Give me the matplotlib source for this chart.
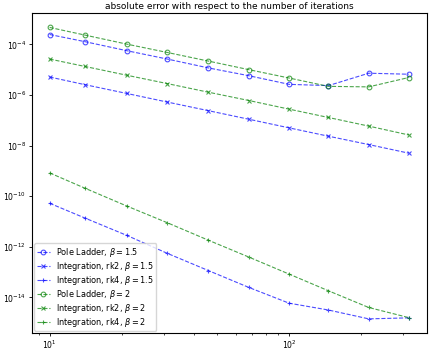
import numpy as np
import matplotlib
matplotlib.use("Agg")
import matplotlib.pyplot as plt

# number of iterations
n_iter = [10, 14, 21, 31, 46, 68, 100, 146, 215, 316]

# absolute errors, beta = 1.5
pole_15 = [10**-3.61, 10**-3.89, 10**-4.25, 10**-4.58, 10**-4.93,
           10**-5.24, 10**-5.58, 10**-5.63, 10**-5.14, 10**-5.18]
rk2_15 = [10**-5.29, 10**-5.59, 10**-5.94, 10**-6.28, 10**-6.62,
          10**-6.96, 10**-7.30, 10**-7.63, 10**-7.96, 10**-8.30]
rk4_15 = [10**-10.28, 10**-10.86, 10**-11.55, 10**-12.26, 10**-12.94,
          10**-13.61, 10**-14.23, 10**-14.50, 10**-14.85, 10**-14.81]

# absolute errors, beta = 2
pole_2 = [10**-3.33, 10**-3.63, 10**-3.99, 10**-4.32, 10**-4.66,
          10**-5.00, 10**-5.33, 10**-5.66, 10**-5.68, 10**-5.31]
rk2_2 = [10**-4.58, 10**-4.87, 10**-5.22, 10**-5.55, 10**-5.89,
         10**-6.22, 10**-6.56, 10**-6.89, 10**-7.23, 10**-7.58]
rk4_2 = [10**-9.08, 10**-9.68, 10**-10.39, 10**-11.05, 10**-11.74,
         10**-12.41, 10**-13.08, 10**-13.74, 10**-14.40, 10**-14.80]

fig, ax = plt.subplots(figsize=(4.31, 3.57), dpi=100)

style = dict(linestyle='--', linewidth=0.8, markersize=3.4, alpha=0.7,
             markeredgewidth=0.8)
ax.plot(n_iter, pole_15, color='b', marker='o', fillstyle='none',
        label=r'Pole Ladder, $\beta = 1.5$', **style)
ax.plot(n_iter, rk2_15, color='b', marker='x',
        label=r'Integration, rk2, $\beta = 1.5$', **style)
ax.plot(n_iter, rk4_15, color='b', marker='+',
        label=r'Integration, rk4, $\beta = 1.5$', **style)
ax.plot(n_iter, pole_2, color='g', marker='o', fillstyle='none',
        label=r'Pole Ladder, $\beta = 2$', **style)
ax.plot(n_iter, rk2_2, color='g', marker='x',
        label=r'Integration, rk2, $\beta = 2$', **style)
ax.plot(n_iter, rk4_2, color='g', marker='+',
        label=r'Integration, rk4, $\beta = 2$', **style)

ax.set_xscale('log')
ax.set_yscale('log')
ax.tick_params(which='major', labelsize=5.6, width=0.6, length=2.5, pad=1.5)
ax.tick_params(which='minor', width=0.5, length=1.5, labelbottom=False)
ax.set_title('absolute error with respect to the number of iterations',
             fontsize=6.5, pad=3)
ax.legend(loc='lower left', fontsize=5.9, handlelength=1.6,
          labelspacing=0.12, borderpad=0.3, borderaxespad=0.3)
for s in ax.spines.values():
    s.set_linewidth(0.8)

fig.subplots_adjust(left=0.0735, right=0.99, top=0.964, bottom=0.066)
fig.savefig("out.png")
